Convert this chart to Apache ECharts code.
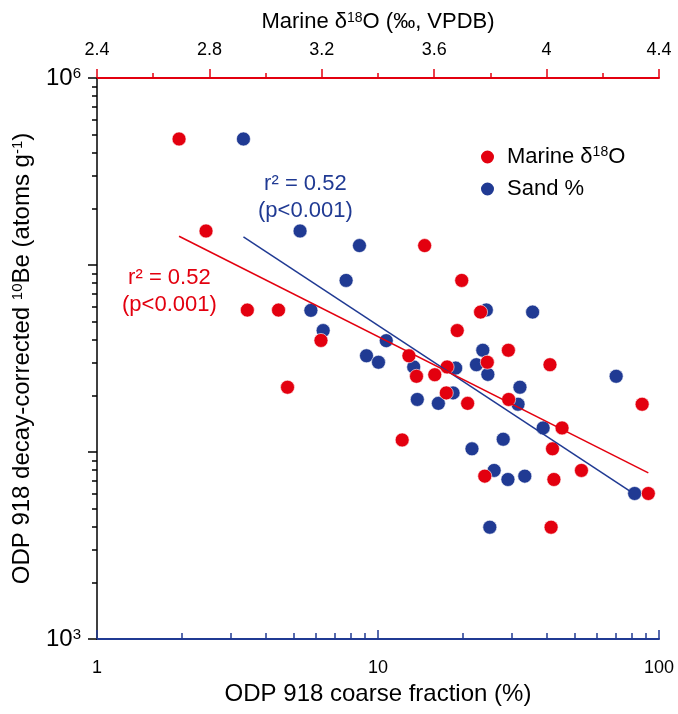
<!DOCTYPE html>
<html lang="en">
<head>
    <meta charset="UTF-8">
    <title>10Be vs coarse fraction and d18O</title>
    <script src="https://cdn.jsdelivr.net/npm/echarts@6.0.0/dist/echarts.min.js"></script>
    <style>
        *{
            margin: 0;
            padding: 0;
        }
        html,body{
            width: 100%;
            height: 100%;
            background: #fff;
        }
        .container{
            width: 678px;
            height: 714px;
        }
    </style>
</head>
<body>
<div class="container"></div>
<script>
    // sand % (bottom log axis) vs 10Be
    let sandPct = [3.32, 5.28, 8.59, 7.70, 5.77, 6.38, 10.7, 9.10, 10.04, 13.4, 13.8, 16.4, 18.9, 18.5, 23.6,
        22.4, 24.6, 24.3, 21.6, 25.9, 25.0, 35.5, 32.0, 31.5, 38.7, 27.9, 29.0, 33.3, 70.4, 81.9];
    let sandBe = [4.72e5, 1.52e5, 1.27e5, 8.27e4, 5.72e4, 4.46e4, 3.94e4, 3.27e4, 3.02e4, 2.85e4, 1.91e4, 1.82e4, 2.81e4, 2.07e4, 3.5e4,
        2.93e4, 2.6e4, 5.75e4, 1.04e4, 7.97e3, 3.96e3, 5.6e4, 2.22e4, 1.80e4, 1.345e4, 1.17e4, 7.13e3, 7.43e3, 2.54e4, 6.0e3];

    // marine d18O (top axis) vs 10Be
    let d18O = [2.692, 2.788, 2.935, 3.046, 3.197, 3.078, 3.566, 3.698, 3.765, 3.682, 3.864, 3.510, 3.537, 3.602, 3.646,
        3.643, 3.719, 3.486, 3.789, 3.780, 4.012, 3.865, 4.055, 4.021, 4.124, 4.026, 4.340, 4.362, 4.016];
    let d18OBe = [4.72e5, 1.52e5, 5.74e4, 5.74e4, 3.95e4, 2.22e4, 1.27e5, 8.27e4, 5.6e4, 4.46e4, 3.5e4, 3.27e4, 2.54e4, 2.59e4, 2.85e4,
        2.07e4, 1.82e4, 1.16e4, 3.02e4, 7.43e3, 2.93e4, 1.91e4, 1.345e4, 1.04e4, 7.97e3, 7.13e3, 1.80e4, 6.0e3, 3.96e3];

    // regression lines (end points)
    let sandFitX = [3.32, 78.8];
    let sandFitY = [1.414e5, 6.17e3];
    let d18OFitX = [2.692, 4.362];
    let d18OFitY = [1.425e5, 7.74e3];

    // ticks and labels
    let xMajorTicks = [1, 10, 100];
    let xMinorTicks = [2, 3, 4, 5, 6, 7, 8, 9, 20, 30, 40, 50, 60, 70, 80, 90];
    let yMajorTicks = [1e3, 1e4, 1e5, 1e6];
    let yLabelTicks = [1e3, 1e6];
    let yMinorTicks = [2e3, 3e3, 4e3, 5e3, 6e3, 7e3, 8e3, 9e3, 2e4, 3e4, 4e4, 5e4, 6e4, 7e4, 8e4, 9e4,
        2e5, 3e5, 4e5, 5e5, 6e5, 7e5, 8e5, 9e5];

    const RED = '#e3000f';
    const BLUE = '#203a93';
    const FONT = 'Liberation Sans, Arial, sans-serif';

    let container = document.querySelector('.container');
    let chart = echarts.init(container);

    let zip = (xs, ys) => xs.map((x, i) => [x, ys[i]]);
    let supRich = size => ({sup: {fontSize: size, verticalAlign: 'top', fontFamily: FONT}});

    let option = {
        animation: false,
        textStyle: {fontFamily: FONT},
        grid: {left: 97, right: 19, top: 78, bottom: 75},
        legend: {
            data: ['Marine δ18O', 'Sand %'],
            orient: 'vertical',
            left: 474,
            top: 140,
            icon: 'circle',
            itemWidth: 15,
            itemHeight: 15,
            itemGap: 8,
            formatter: function (name) {
                return name == 'Marine δ18O' ? 'Marine δ{sup|18}O' : name;
            },
            textStyle: {
                fontFamily: FONT,
                fontSize: 22,
                color: '#000',
                lineHeight: 24,
                padding: [0, 0, 0, 7],
                rich: {
                    sup: {fontSize: 14, verticalAlign: 'top', lineHeight: 24, fontFamily: FONT}
                }
            }
        },
        xAxis: [{
            type: 'log',
            logBase: 10,
            min: 1,
            max: 100,
            position: 'bottom',
            name: 'ODP 918 coarse fraction (%)',
            nameLocation: 'middle',
            nameGap: 40,
            nameTextStyle: {fontSize: 24, color: '#000', fontFamily: FONT},
            axisLine: {lineStyle: {color: BLUE, width: 2}},
            axisTick: {inside: true, length: 9, customValues: xMajorTicks, lineStyle: {color: BLUE, width: 1.5}},
            axisLabel: {fontSize: 18, color: '#000', margin: 20, fontFamily: FONT, customValues: xMajorTicks},
            splitLine: {show: false}
        }, {
            type: 'value',
            min: 2.4,
            max: 4.4,
            interval: 0.4,
            position: 'top',
            name: 'Marine δ{sup|18}O (‰, VPDB)',
            nameLocation: 'middle',
            nameGap: 45,
            nameTextStyle: {fontSize: 22, color: '#000', fontFamily: FONT, rich: supRich(14)},
            axisLine: {lineStyle: {color: RED, width: 2}},
            axisTick: {inside: false, length: 9, lineStyle: {color: RED, width: 1.5}},
            minorTick: {show: true, splitNumber: 2, length: 5, lineStyle: {color: RED, width: 1.5}},
            axisLabel: {fontSize: 18, color: '#000', margin: 19, fontFamily: FONT},
            splitLine: {show: false}
        }, {
            // minor ticks of the bottom log axis
            type: 'log',
            logBase: 10,
            min: 1,
            max: 100,
            position: 'bottom',
            axisLine: {show: false},
            axisTick: {inside: true, length: 6, customValues: xMinorTicks, lineStyle: {color: BLUE, width: 1.5}},
            axisLabel: {show: false},
            splitLine: {show: false}
        }],
        yAxis: [{
            type: 'log',
            logBase: 10,
            min: 1e3,
            max: 1e6,
            name: 'ODP 918 decay-corrected {sup|10}Be (atoms g{sup|-1})',
            nameLocation: 'middle',
            nameRotate: 90,
            nameGap: 63,
            nameTextStyle: {fontSize: 24, color: '#000', fontFamily: FONT, rich: supRich(15)},
            axisLine: {lineStyle: {color: '#000', width: 1.5}},
            axisTick: {inside: false, length: 9, customValues: yMajorTicks, lineStyle: {color: '#000', width: 1.5}},
            axisLabel: {
                fontSize: 24,
                color: '#000',
                margin: 16,
                fontFamily: FONT,
                customValues: yLabelTicks,
                formatter: function (v) {
                    return '10{sup|' + Math.round(Math.log10(v)) + '}';
                },
                rich: supRich(15)
            },
            splitLine: {show: false}
        }, {
            // minor ticks of the left log axis
            type: 'log',
            logBase: 10,
            min: 1e3,
            max: 1e6,
            position: 'left',
            axisLine: {show: false},
            axisTick: {inside: false, length: 5, customValues: yMinorTicks, lineStyle: {color: '#000', width: 1.5}},
            axisLabel: {show: false},
            splitLine: {show: false}
        }],
        graphic: [
            {type: 'text', left: 303 - 45, top: 170, style: {text: 'r² = 0.52\n(p<0.001)', fill: BLUE, font: '22px ' + FONT, textAlign: 'center', lineHeight: 27}},
            {type: 'text', left: 167 - 45, top: 264, style: {text: 'r² = 0.52\n(p<0.001)', fill: RED, font: '22px ' + FONT, textAlign: 'center', lineHeight: 27}}
        ],
        series: [
            {
                name: 'Sand fit',
                type: 'line',
                xAxisIndex: 0,
                data: zip(sandFitX, sandFitY),
                symbol: 'none',
                lineStyle: {color: BLUE, width: 1.5}
            },
            {
                name: 'd18O fit',
                type: 'line',
                xAxisIndex: 1,
                data: zip(d18OFitX, d18OFitY),
                symbol: 'none',
                lineStyle: {color: RED, width: 1.5}
            },
            {
                name: 'Sand %',
                type: 'scatter',
                xAxisIndex: 0,
                data: zip(sandPct, sandBe),
                symbolSize: 14,
                itemStyle: {color: BLUE, borderColor: '#fff', borderWidth: 0.6, opacity: 1}
            },
            {
                name: 'Marine δ18O',
                type: 'scatter',
                xAxisIndex: 1,
                data: zip(d18O, d18OBe),
                symbolSize: 14,
                itemStyle: {color: RED, borderColor: '#fff', borderWidth: 0.6, opacity: 1}
            }
        ]
    };
    chart.setOption(option);
</script>
</body>
</html>
